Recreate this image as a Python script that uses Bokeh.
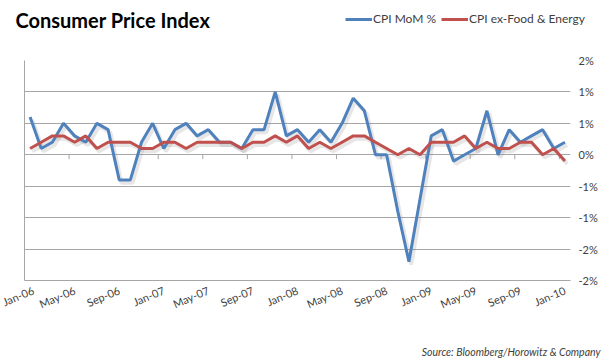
from bokeh.plotting import figure
from bokeh.models import (ColumnDataSource, FixedTicker, LinearAxis, Label, Legend,
                          LegendItem, Range1d, Grid)
from bokeh.layouts import column
from bokeh.transform import dodge
from bokeh.embed import file_html
from bokeh.resources import INLINE

# ---- data ----
months = ["Jan-06", "Feb-06", "Mar-06", "Apr-06", "May-06", "Jun-06", "Jul-06", "Aug-06",
          "Sep-06", "Oct-06", "Nov-06", "Dec-06",
          "Jan-07", "Feb-07", "Mar-07", "Apr-07", "May-07", "Jun-07", "Jul-07", "Aug-07",
          "Sep-07", "Oct-07", "Nov-07", "Dec-07",
          "Jan-08", "Feb-08", "Mar-08", "Apr-08", "May-08", "Jun-08", "Jul-08", "Aug-08",
          "Sep-08", "Oct-08", "Nov-08", "Dec-08",
          "Jan-09", "Feb-09", "Mar-09", "Apr-09", "May-09", "Jun-09", "Jul-09", "Aug-09",
          "Sep-09", "Oct-09", "Nov-09", "Dec-09",
          "Jan-10"]
cpi_mom = [0.6, 0.1, 0.2, 0.5, 0.3, 0.2, 0.5, 0.4, -0.4, -0.4, 0.2, 0.5,
           0.1, 0.4, 0.5, 0.3, 0.4, 0.2, 0.2, 0.1, 0.4, 0.4, 1.0, 0.3,
           0.4, 0.2, 0.4, 0.2, 0.5, 0.9, 0.7, 0.0, 0.0, -0.9, -1.7, -0.7,
           0.3, 0.4, -0.1, 0.0, 0.1, 0.7, 0.0, 0.4, 0.2, 0.3, 0.4, 0.1,
           0.2]
cpi_core = [0.1, 0.2, 0.3, 0.3, 0.2, 0.3, 0.1, 0.2, 0.2, 0.2, 0.1, 0.1,
            0.2, 0.2, 0.1, 0.2, 0.2, 0.2, 0.2, 0.1, 0.2, 0.2, 0.3, 0.2,
            0.3, 0.1, 0.2, 0.1, 0.2, 0.3, 0.3, 0.2, 0.1, 0.0, 0.1, 0.0,
            0.2, 0.2, 0.2, 0.3, 0.1, 0.2, 0.1, 0.1, 0.2, 0.2, 0.0, 0.1,
            -0.1]
x_tick_labels = ["Jan-06", "May-06", "Sep-06", "Jan-07", "May-07", "Sep-07", "Jan-08",
                 "May-08", "Sep-08", "Jan-09", "May-09", "Sep-09", "Jan-10"]
y_ticks = [-2.0, -1.5, -1.0, -0.5, 0.0, 0.5, 1.0, 1.5]
y_tick_labels = ["-2%", "-2%", "-1%", "-1%", "0%", "1%", "1%", "2%"]
series_names = ["CPI MoM %", "CPI ex-Food & Energy"]
title_text = "Consumer Price Index"
source_text = "Source: Bloomberg/Horowitz & Company"

# ---- styles ----
BLUE = "#4f81bd"
RED = "#c0504d"
GRID = "#a6a6a6"
TEXT = "#404040"
FONT = "Lato"
W = 608
HEAD_H, MAIN_H, FOOT_H = 52, 291, 15


def drop_default_grids(f):
    f.center = [c for c in f.center if not isinstance(c, Grid)]


def no_align(f, h):
    try:
        f.frame_align = False
    except Exception:
        f.frame_width = W
        f.frame_height = h


def blank(h):
    f = figure(width=W, height=h, output_backend="svg", toolbar_location=None,
               x_range=Range1d(0, W), y_range=Range1d(0, h),
               x_axis_location=None, y_axis_location=None,
               min_border_left=0, min_border_right=0, min_border_top=0, min_border_bottom=0)
    f.outline_line_color = None
    f.background_fill_color = "white"
    f.border_fill_color = "white"
    drop_default_grids(f)
    no_align(f, h)
    return f


# ---- main chart ----
idx = list(range(len(months)))
src = ColumnDataSource(dict(x=idx, mom=cpi_mom, core=cpi_core))

p = figure(width=W, height=MAIN_H, output_backend="svg", toolbar_location=None,
           x_range=Range1d(-0.5, len(months) - 0.5),
           y_range=Range1d(y_ticks[0], y_ticks[-1]),
           x_axis_location=None, y_axis_location=None,
           min_border_left=24, min_border_right=38, min_border_top=8, min_border_bottom=63)
p.outline_line_color = None
p.background_fill_color = "white"
p.border_fill_color = "white"
drop_default_grids(p)
try:
    p.frame_align = False
except Exception:
    pass

ytk = FixedTicker(ticks=y_ticks)
p.add_layout(Grid(dimension=1, ticker=ytk, grid_line_color=GRID, grid_line_width=1))

xa = LinearAxis(ticker=FixedTicker(ticks=[months.index(t) for t in x_tick_labels]),
                major_label_overrides={months.index(t): t for t in x_tick_labels},
                major_label_orientation=0.4,
                major_tick_out=0, major_tick_in=0, minor_tick_out=0, minor_tick_in=0,
                axis_line_color=GRID, axis_line_width=1,
                major_label_text_font=FONT, major_label_text_font_size="11px",
                major_label_text_color=TEXT, major_label_standoff=9)
p.add_layout(xa, "below")

la = LinearAxis(ticker=FixedTicker(ticks=[]), major_tick_out=0, major_tick_in=0,
                minor_tick_out=0, minor_tick_in=0, major_label_text_font_size="0px",
                axis_line_color=GRID, axis_line_width=1)
p.add_layout(la, "left")

ya = LinearAxis(ticker=ytk,
                major_label_overrides=dict(zip(y_ticks, y_tick_labels)),
                axis_line_color=None, major_tick_out=0, major_tick_in=0,
                minor_tick_out=0, minor_tick_in=0,
                major_label_text_font=FONT, major_label_text_font_size="11px",
                major_label_text_color=TEXT, major_label_standoff=8)
p.add_layout(ya, "right")

bounds = [months.index(t) - 0.5 for t in x_tick_labels[1:]]
p.segment(x0=bounds, y0=[0] * len(bounds), x1=bounds, y1=[-0.07] * len(bounds),
          line_color=GRID, line_width=1)

for col in ["mom", "core"]:
    p.line(x=dodge("x", 0.2), y=dodge(col, -0.045), source=src,
           line_color="#808080", line_alpha=0.2, line_width=4)

p.line(x="x", y="mom", source=src, line_color=BLUE, line_width=3)
p.line(x="x", y="core", source=src, line_color=RED, line_width=3)

# ---- header: title + legend ----
head = blank(HEAD_H)
# hidden copies of the two series, used only as legend samples
h_mom = head.line(x="x", y="mom", source=src, line_color=BLUE, line_width=3, visible=False)
h_core = head.line(x="x", y="core", source=src, line_color=RED, line_width=3, visible=False)
head.add_layout(Label(x=15, y=33, text=title_text, text_font=FONT, text_font_style="bold",
                      text_font_size="20px", text_color="black",
                      text_baseline="middle"))
legend = Legend(items=[LegendItem(label=series_names[0], renderers=[h_mom]),
                       LegendItem(label=series_names[1], renderers=[h_core])],
                orientation="horizontal", location=(345, 26),
                glyph_width=27, glyph_height=12, label_standoff=1, spacing=5,
                padding=0, margin=0, border_line_color=None, background_fill_alpha=0,
                label_text_font=FONT, label_text_font_size="12px", label_text_color=TEXT,
                label_height=12)
head.add_layout(legend, "center")

# ---- footer: source ----
foot = blank(FOOT_H)
foot.add_layout(Label(x=600, y=7, text=source_text, text_font=FONT,
                      text_font_style="italic", text_font_size="10.5px", text_color=TEXT,
                      text_align="right", text_baseline="middle"))

layout = column(head, p, foot, spacing=0)
open("out.html", "w").write(file_html(layout, INLINE))
